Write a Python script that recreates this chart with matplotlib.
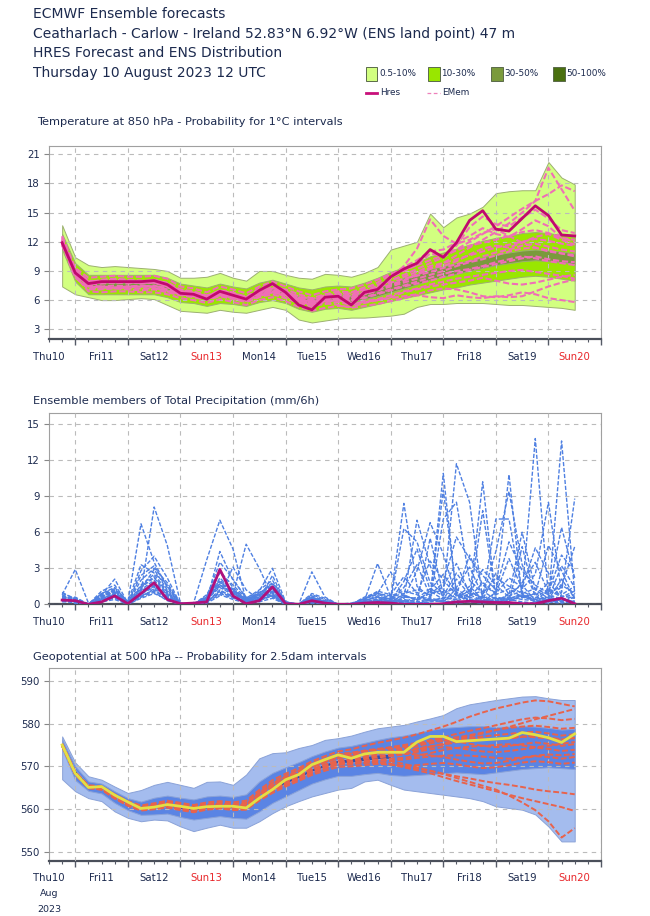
import numpy as np
import matplotlib
matplotlib.use('Agg')
import matplotlib.pyplot as plt
from matplotlib.patches import Rectangle
from matplotlib.lines import Line2D

nan = np.nan

# forecast steps (hours after Thu 10 Aug 2023 12 UTC)
steps = np.arange(6, 241, 6)
day_labels = ['Thu10', 'Fri11', 'Sat12', 'Sun13', 'Mon14', 'Tue15',
              'Wed16', 'Thu17', 'Fri18', 'Sat19', 'Sun20']

# ---------------- Temperature 850 hPa ----------------
t850_hres = [11.9, 8.8, 7.7, 7.9, 7.9, 7.9, 7.9, 8.0, 7.6, 6.7,
             6.6, 6.1, 6.9, 6.5, 6.1, 7.0, 7.7, 6.8, 5.5, 5.0,
             6.3, 6.4, 5.5, 6.8, 7.1, 8.4, 9.2, 9.8, 11.2, 10.4,
             11.9, 14.2, 15.2, 13.3, 13.1, 14.4, 15.7, 14.7, 12.7, 12.6]

t850_p0_lo = [7.4, 6.6, 6.3, 6.0, 6.0, 6.1, 6.2, 6.1, 5.5, 4.9,
              4.8, 4.7, 5.0, 4.8, 4.7, 5.0, 5.3, 5.0, 4.0, 3.7,
              3.9, 4.1, 4.2, 4.2, 4.3, 4.4, 4.6, 5.3, 5.6, 5.6,
              5.7, 5.7, 5.7, 5.6, 5.5, 5.5, 5.4, 5.3, 5.2, 5.0]
t850_p0_hi = [13.7, 10.4, 9.6, 9.4, 9.5, 9.4, 9.3, 9.2, 9.0, 8.3,
              8.3, 8.4, 8.8, 8.3, 8.0, 9.0, 9.0, 8.6, 8.3, 8.2,
              8.7, 8.6, 8.4, 8.8, 9.4, 11.2, 11.6, 12.0, 14.9, 13.5,
              14.5, 14.9, 15.6, 17.0, 17.2, 17.3, 17.3, 20.2, 18.6, 17.9]
t850_p10_lo = [11.2, 7.9, 6.6, 6.6, 6.6, 6.6, 6.6, 6.6, 6.3, 5.8,
               5.7, 5.4, 5.7, 5.6, 5.4, 5.8, 6.0, 5.7, 5.1, 4.8,
               5.1, 5.2, 5.0, 5.3, 5.6, 5.9, 6.2, 6.5, 6.8, 7.1,
               7.3, 7.6, 7.8, 8.0, 8.2, 8.4, 8.5, 8.4, 8.2, 8.0]
t850_p10_hi = [12.8, 9.8, 8.6, 8.6, 8.6, 8.6, 8.6, 8.6, 8.3, 7.7,
               7.5, 7.3, 7.7, 7.4, 7.2, 7.8, 8.1, 7.7, 7.3, 7.1,
               7.4, 7.5, 7.4, 7.8, 8.3, 8.9, 9.4, 9.9, 10.5, 10.9,
               11.3, 11.7, 12.1, 12.4, 12.6, 12.9, 13.0, 12.9, 12.7, 12.5]
t850_p30_lo = [11.7, 8.6, 7.4, 7.4, 7.4, 7.4, 7.4, 7.4, 7.1, 6.6,
               6.4, 6.1, 6.5, 6.3, 6.0, 6.5, 6.8, 6.5, 5.9, 5.6,
               5.9, 6.0, 5.8, 6.1, 6.4, 6.8, 7.2, 7.6, 8.1, 8.4,
               8.7, 9.0, 9.3, 9.6, 9.8, 10.0, 10.1, 10.0, 9.9, 9.7]
t850_p30_hi = [12.3, 9.0, 7.8, 7.8, 7.8, 7.8, 7.8, 7.8, 7.5, 7.0,
               6.8, 6.5, 6.9, 6.7, 6.4, 6.9, 7.2, 6.9, 6.4, 6.1,
               6.4, 6.6, 6.5, 6.8, 7.2, 7.8, 8.3, 8.7, 9.2, 9.5,
               9.8, 10.1, 10.4, 10.7, 10.9, 11.1, 11.2, 11.1, 11.0, 10.8]
t850_p50_lo = [11.8, 8.6] + [nan] * 38
t850_p50_hi = [12.2, 9.0] + [nan] * 38

t850_members = [
    [12.2, 8.9, 7.9, 8.0, 8.1, 8.0, 7.9, 8.1, 7.7, 6.9, 6.8, 6.4, 7.0, 6.8, 6.3, 7.2, 7.6, 7.0, 6.0, 5.6,
     6.4, 6.8, 6.5, 7.2, 7.8, 8.6, 9.4, 10.1, 11.0, 11.2, 11.9, 12.6, 13.4, 12.8, 12.5, 13.3, 14.2, 13.6, 12.4, 12.0],
    [11.8, 8.4, 7.1, 7.1, 7.2, 7.1, 7.0, 7.1, 6.8, 6.5, 6.3, 6.0, 6.4, 6.1, 5.8, 6.3, 6.6, 6.2, 5.7, 5.4,
     5.6, 5.8, 5.5, 5.9, 6.1, 6.5, 6.9, 7.2, 7.6, 7.9, 8.2, 8.4, 8.6, 8.8, 9.0, 9.1, 8.9, 8.7, 8.5, 8.2],
    [12.5, 9.1, 8.0, 7.9, 7.8, 7.7, 7.9, 8.0, 7.8, 7.1, 6.9, 6.5, 6.8, 6.6, 6.4, 6.9, 7.3, 7.1, 6.6, 6.2,
     6.6, 6.9, 6.8, 7.3, 7.6, 8.1, 8.4, 8.9, 9.5, 9.8, 10.2, 10.6, 11.0, 11.4, 11.7, 12.0, 12.3, 12.1, 11.8, 11.6],
    [11.6, 8.7, 7.7, 7.8, 7.9, 7.9, 7.7, 7.8, 7.4, 6.6, 6.4, 6.2, 6.6, 6.4, 6.1, 6.8, 7.2, 6.8, 6.1, 5.8,
     6.3, 6.5, 6.4, 6.9, 7.5, 8.2, 9.5, 11.3, 14.3, 12.6, 11.8, 12.2, 12.9, 13.3, 12.6, 11.9, 11.4, 11.0, 10.8, 10.5],
    [12.0, 8.8, 7.6, 7.7, 7.8, 7.9, 8.0, 7.9, 7.5, 6.8, 6.7, 6.3, 6.6, 6.3, 6.0, 6.6, 7.0, 6.6, 6.2, 5.9,
     6.1, 6.2, 6.1, 6.6, 7.0, 7.6, 8.0, 8.6, 9.2, 9.8, 10.6, 11.4, 12.2, 13.0, 13.9, 15.0, 16.2, 19.6, 17.4, 15.2],
    [12.3, 8.8, 7.4, 7.3, 7.2, 7.3, 7.4, 7.3, 6.9, 6.6, 6.5, 6.1, 6.5, 6.2, 5.9, 6.4, 6.8, 6.4, 5.9, 5.5,
     5.9, 6.0, 5.6, 5.8, 6.0, 6.2, 6.4, 6.6, 7.0, 7.2, 7.1, 6.8, 6.4, 6.3, 6.5, 6.8, 6.6, 6.2, 6.0, 5.8],
    [11.9, 8.7, 7.8, 8.1, 8.2, 8.1, 8.0, 7.9, 7.5, 6.9, 6.7, 6.4, 7.0, 6.7, 6.3, 6.8, 7.1, 6.8, 6.4, 6.1,
     6.5, 6.6, 6.7, 7.0, 7.3, 7.8, 8.2, 8.5, 8.9, 9.3, 9.7, 10.0, 10.5, 10.9, 11.2, 11.6, 11.8, 11.5, 11.2, 11.0],
    [12.1, 8.8, 7.7, 7.9, 7.9, 7.8, 7.8, 8.0, 7.6, 6.8, 6.6, 6.2, 6.8, 6.5, 6.1, 7.0, 7.6, 6.9, 5.8, 5.3,
     6.1, 6.3, 5.7, 6.6, 7.2, 8.3, 9.0, 9.6, 10.8, 10.5, 11.6, 13.5, 14.6, 13.8, 13.6, 14.5, 15.3, 14.4, 13.2, 12.9],
    [12.4, 8.8, 7.5, 7.4, 7.3, 7.4, 7.5, 7.4, 7.3, 7.0, 6.8, 6.4, 6.7, 6.5, 6.2, 6.6, 6.9, 6.6, 6.2, 5.8,
     6.0, 6.1, 6.0, 6.3, 6.7, 7.1, 7.5, 7.9, 8.3, 8.7, 9.0, 9.2, 9.5, 9.9, 10.2, 10.5, 10.3, 10.0, 9.8, 9.6],
    [11.7, 8.3, 7.2, 7.2, 7.3, 7.2, 7.2, 7.2, 7.0, 6.6, 6.4, 6.1, 6.5, 6.3, 6.0, 6.5, 6.8, 6.5, 6.0, 5.6,
     5.8, 6.0, 5.9, 6.2, 6.6, 7.0, 7.4, 7.7, 8.0, 8.4, 8.7, 9.1, 9.4, 9.7, 10.0, 10.3, 10.5, 10.2, 10.0, 9.9],
    [12.0, 8.9, 7.9, 8.0, 8.0, 8.0, 7.9, 8.1, 7.7, 6.9, 6.7, 6.3, 6.8, 6.6, 6.2, 6.9, 7.3, 6.9, 6.3, 6.0,
     6.4, 6.5, 6.3, 6.8, 7.1, 7.5, 8.0, 8.7, 9.3, 9.5, 10.0, 10.7, 11.3, 11.6, 11.4, 11.9, 12.5, 12.8, 12.2, 11.7],
    [12.2, 8.5, 6.9, 6.8, 6.9, 6.9, 6.8, 6.8, 6.6, 6.2, 6.0, 5.7, 6.1, 5.8, 5.5, 6.0, 6.3, 5.9, 5.3, 4.9,
     5.2, 5.4, 5.3, 5.7, 6.0, 6.3, 6.8, 7.1, 7.4, 7.6, 7.8, 8.0, 8.3, 8.0, 7.7, 7.6, 7.8, 8.1, 8.4, 8.6],
    [11.8, 8.5, 7.3, 7.4, 7.5, 7.4, 7.4, 7.5, 7.1, 6.7, 6.5, 6.2, 6.6, 6.3, 6.1, 6.6, 6.9, 6.6, 6.0, 5.5,
     5.7, 5.5, 5.2, 5.4, 5.6, 5.9, 6.2, 6.5, 6.3, 6.2, 6.5, 6.3, 6.2, 6.4, 6.3, 6.4, 6.9, 7.4, 7.8, 8.1],
    [12.6, 9.3, 8.3, 8.4, 8.5, 8.4, 8.4, 8.5, 8.2, 7.4, 7.2, 6.8, 7.4, 7.1, 6.7, 7.4, 7.9, 7.4, 6.9, 6.5,
     6.9, 7.1, 7.2, 7.6, 8.1, 8.7, 9.1, 9.6, 10.1, 10.6, 11.1, 11.6, 11.9, 12.2, 12.6, 13.0, 13.2, 12.9, 12.4, 12.2],
    [12.1, 8.8, 7.8, 7.8, 7.9, 7.9, 7.8, 7.8, 7.5, 6.8, 6.6, 6.3, 6.7, 6.5, 6.2, 6.7, 7.1, 6.7, 6.1, 5.7,
     6.2, 6.4, 6.2, 6.6, 7.0, 7.4, 7.8, 8.2, 8.6, 9.0, 9.5, 9.9, 10.2, 10.6, 11.0, 11.3, 11.4, 11.1, 10.8, 10.6],
    [11.9, 8.6, 7.7, 7.9, 8.0, 7.9, 7.8, 7.8, 7.4, 6.7, 6.6, 6.2, 6.7, 6.4, 6.1, 6.7, 7.0, 6.7, 6.2, 5.9,
     6.2, 6.4, 6.3, 6.8, 7.4, 8.0, 8.6, 9.2, 9.8, 10.4, 11.2, 12.0, 12.8, 13.6, 14.5, 15.4, 16.2, 16.9, 17.8, 17.2],
]

# ---------------- Total precipitation (mm/6h) ----------------
tp_hres = [0.35, 0.3, 0.0, 0.2, 0.7, 0.05, 0.9, 1.8, 0.4, 0.05,
           0.1, 0.2, 2.9, 0.7, 0.05, 0.3, 1.45, 0.05, 0.0, 0.3,
           0.1, 0.0, 0.0, 0.1, 0.15, 0.1, 0.0, 0.0, 0.0, 0.05,
           0.2, 0.25, 0.2, 0.15, 0.15, 0.05, 0.05, 0.3, 0.5, 0.05]

tp_members = [
    [0.5, 0.3, 0, 0.6, 1.0, 0.1, 1.2, 2.0, 0.8, 0, 0.1, 0.4, 1.6, 0.9, 0.2, 0.6, 1.2, 0.1, 0, 0.5,
     0.2, 0, 0, 0.2, 0.4, 0.1, 0.3, 0, 0.2, 0.6, 0.4, 1.2, 0.3, 0.1, 0.5, 0.8, 0.2, 0.1, 0.4, 0.2],
    [0.8, 2.9, 0.1, 0.4, 0.8, 0, 0.9, 1.5, 0.6, 0, 0, 0.3, 2.2, 1.1, 0.4, 0.9, 1.8, 0.2, 0, 0.4,
     0.1, 0, 0, 0.1, 0.2, 0.3, 0.1, 0.2, 5.5, 0.8, 11.7, 8.5, 0.4, 0.2, 0.9, 1.6, 0.3, 0.2, 0.1, 0.3],
    [0.4, 0.2, 0, 0.9, 1.3, 0.2, 6.7, 3.5, 1.4, 0, 0, 0.2, 1.2, 0.6, 0.1, 0.5, 1.0, 0, 0, 0.7,
     0.3, 0, 0, 0.3, 3.4, 0.6, 0.1, 0, 0.4, 0.2, 1.3, 0.5, 10.2, 0.3, 0.2, 4.8, 0.6, 0.4, 2.1, 0.5],
    [0.6, 0.4, 0, 0.5, 0.7, 0, 1.0, 8.1, 4.9, 0.1, 0, 0.5, 1.8, 1.3, 0.2, 0.7, 1.4, 0.1, 0, 0.3,
     0.1, 0, 0.1, 0.4, 0.9, 2.7, 0.5, 7.0, 3.2, 0.5, 0.9, 0.3, 0.6, 7.1, 7.1, 0.9, 0.3, 1.2, 0.6, 0.8],
    [0.3, 0.1, 0, 0.3, 0.5, 0.1, 0.7, 1.2, 0.5, 0, 0.1, 3.7, 7.0, 4.6, 0.3, 0.4, 0.8, 0, 0, 0.2,
     0, 0, 0, 0.1, 0.3, 0.5, 8.4, 1.5, 0.6, 10.9, 0.7, 0.4, 0.2, 1.0, 10.8, 0.5, 0.9, 0.3, 1.5, 4.8],
    [0.7, 0.3, 0, 0.7, 1.1, 0, 1.5, 2.3, 1.0, 0, 0, 0.4, 1.4, 0.8, 5.0, 3.0, 0.6, 0, 0, 0.6,
     0.2, 0, 0, 0, 0.5, 0.2, 0.8, 0.3, 1.1, 0.4, 2.1, 0.8, 0.3, 0.6, 0.4, 0.9, 13.8, 0.7, 0.5, 0.2],
    [0.2, 0.2, 0, 0.8, 2.1, 0.1, 0.8, 1.6, 0.6, 0, 0, 0.3, 0.9, 0.5, 0.2, 0.3, 0.7, 0, 0, 0.8,
     0.4, 0, 0, 0.2, 0.1, 0.4, 0.2, 0.6, 0.3, 0.5, 0.4, 0.9, 0.6, 0.2, 0.3, 0.6, 0.4, 0.3, 13.6, 0.9],
    [0.9, 0.5, 0, 0.5, 0.9, 0, 2.8, 4.0, 2.2, 0, 0, 0.6, 3.5, 2.1, 0.5, 1.1, 3.0, 0.2, 0, 2.7,
     0.6, 0, 0, 0.6, 1.0, 0.3, 1.9, 4.6, 1.2, 2.5, 1.0, 0.6, 1.8, 0.9, 3.8, 1.3, 2.5, 8.5, 1.0, 8.8],
    [0.5, 0.2, 0, 0.4, 0.6, 0, 0.6, 1.0, 0.3, 0, 0, 0.2, 0.8, 0.4, 0.1, 0.2, 0.5, 0, 0, 0.1,
     0, 0, 0, 0, 0.1, 0, 0, 0.1, 0.2, 0.3, 0.1, 0.2, 0.1, 0.3, 0.4, 0.2, 0.1, 0.3, 0.2, 0.1],
    [0.6, 0.3, 0, 0.6, 1.2, 0.1, 1.1, 1.8, 0.7, 0, 0, 0.4, 1.9, 1.0, 0.3, 0.8, 1.6, 0.1, 0, 0.4,
     0.2, 0, 0, 0.3, 0.6, 0.2, 0.5, 2.8, 6.8, 4.2, 0.6, 1.5, 0.4, 2.6, 0.8, 6.0, 1.2, 0.5, 3.2, 1.4],
    [0.4, 0.1, 0, 0.2, 0.4, 0, 0.5, 0.9, 0.4, 0, 0, 0.1, 0.7, 3.1, 1.2, 0.4, 2.4, 0.1, 0, 0.2,
     0.1, 0, 0, 0.1, 0.2, 0.1, 0.2, 0.4, 0.6, 9.5, 1.0, 0.3, 7.8, 0.5, 0.2, 0.8, 0.4, 0.6, 0.3, 0.7],
    [1.0, 0.4, 0, 0.9, 1.4, 0.2, 3.3, 2.6, 1.6, 0.1, 0, 0.7, 2.6, 1.6, 0.5, 1.2, 2.0, 0.2, 0, 0.9,
     0.5, 0, 0, 0.5, 0.8, 0.6, 0.9, 1.2, 0.8, 1.8, 5.6, 3.8, 2.4, 1.2, 5.2, 2.8, 1.6, 0.9, 6.4, 2.2],
    [0.3, 0.2, 0, 0.5, 0.8, 0, 0.9, 1.4, 0.9, 0, 0, 0.2, 1.1, 0.7, 0.2, 0.5, 0.9, 0, 0, 0.3,
     0.1, 0, 0, 0.2, 0.3, 0.2, 0.4, 0.2, 0.5, 0.3, 0.8, 0.2, 0.4, 0.3, 0.6, 0.4, 0.3, 0.5, 0.2, 0.6],
    [0.5, 0.6, 0, 0.4, 0.9, 0, 1.3, 2.9, 1.2, 0, 0, 0.5, 1.5, 0.9, 0.3, 0.6, 1.1, 0, 0, 0.5,
     0.3, 0, 0, 0.3, 0.7, 0.4, 6.3, 5.2, 1.8, 0.9, 1.4, 3.1, 0.7, 4.4, 9.4, 3.3, 0.7, 1.8, 0.6, 1.1],
    [0.7, 0.3, 0, 1.1, 1.6, 0.1, 2.0, 3.0, 1.8, 0, 0, 0.8, 2.8, 1.4, 0.4, 1.0, 1.5, 0.1, 0, 0.6,
     0.2, 0, 0, 0.4, 1.1, 0.8, 2.3, 0.9, 3.6, 2.0, 0.8, 4.1, 1.6, 0.9, 2.2, 1.4, 4.7, 2.6, 0.8, 1.5],
    [0.4, 0.2, 0, 0.3, 0.6, 0, 0.7, 1.1, 0.5, 0, 0, 0.3, 4.4, 2.0, 0.6, 0.3, 0.8, 0, 0, 0.3,
     0.1, 0, 0, 0.1, 0.2, 0.3, 0.6, 0.5, 1.3, 0.7, 2.6, 1.1, 0.5, 0.8, 1.3, 0.6, 0.9, 4.9, 2.8, 0.4],
    [0.6, 0.4, 0, 0.7, 1.0, 0.1, 1.6, 2.5, 1.1, 0, 0, 0.4, 1.7, 1.2, 0.3, 0.7, 1.3, 0.1, 0, 0.4,
     0.2, 0, 0, 0.2, 0.4, 0.5, 0.7, 0.4, 0.9, 1.2, 0.5, 0.8, 1.1, 0.4, 0.7, 1.1, 0.5, 1.3, 0.7, 0.5],
    [0.8, 0.3, 0, 0.6, 1.2, 0.1, 2.4, 3.2, 1.5, 0, 0, 0.6, 2.0, 1.2, 0.4, 0.9, 1.7, 0.1, 0, 0.5,
     0.2, 0, 0, 0.5, 0.9, 0.7, 1.1, 0.8, 0.3, 7.1, 8.5, 2.0, 0.9, 2.2, 1.5, 0.9, 1.3, 0.8, 1.6, 0.9],
    [0.3, 0.2, 0, 0.4, 0.7, 0, 0.6, 1.3, 0.6, 0, 0, 0.2, 1.0, 0.6, 0.1, 0.4, 0.7, 0, 0, 0.2,
     0.1, 0, 0, 0.1, 0.1, 0.2, 0.3, 0.1, 0.4, 0.2, 0.3, 0.6, 0.2, 0.5, 0.3, 0.7, 0.2, 0.4, 0.3, 0.2],
    [0.6, 0.5, 0, 0.8, 1.2, 0.1, 1.4, 2.2, 0.9, 0, 0, 0.5, 1.6, 1.0, 0.3, 0.8, 1.3, 0.1, 0, 0.4,
     0.2, 0, 0, 0.3, 0.6, 0.4, 1.4, 3.3, 0.7, 1.5, 3.4, 0.9, 2.9, 1.6, 0.6, 1.8, 3.5, 1.0, 4.1, 2.7],
]

# ---------------- Geopotential 500 hPa (dam) ----------------
z500_hres = [575.0, 568.4, 565.1, 565.3, 563.3, 561.7, 560.2, 560.5, 561.1, 560.7,
             560.2, 560.6, 560.7, 560.7, 560.3, 562.6, 564.6, 566.9, 568.1, 570.4,
             571.6, 572.7, 571.9, 572.9, 573.3, 573.3, 573.3, 575.7, 577.0, 577.0,
             575.8, 576.0, 576.2, 576.4, 576.6, 577.9, 577.4, 576.7, 575.6, 577.6]

z500_p0_lo = [567.0, 564.2, 562.6, 561.9, 559.5, 558.0, 557.2, 557.6, 557.4, 556.0,
              554.9, 555.7, 556.4, 555.7, 555.7, 557.2, 559.1, 560.7, 561.9, 563.0,
              563.8, 564.6, 565.0, 566.5, 566.9, 565.7, 564.6, 564.2, 563.8, 563.4,
              563.0, 562.6, 561.9, 560.7, 560.3, 559.9, 558.8, 556.0, 552.5, 552.5]
z500_p0_hi = [577.0, 570.9, 567.7, 566.9, 565.3, 563.8, 564.5, 565.7, 566.4, 565.7,
              565.0, 566.4, 566.5, 565.7, 568.1, 571.9, 573.1, 573.3, 574.3, 575.0,
              576.2, 576.6, 577.2, 578.1, 578.9, 579.3, 579.7, 580.5, 581.2, 582.0,
              583.6, 584.5, 585.0, 585.5, 585.9, 586.3, 586.4, 585.9, 585.5, 585.5]
z500_p10_lo = [574.0, 566.8, 564.3, 563.7, 561.5, 559.8, 558.7, 558.8, 559.0, 558.2,
               557.6, 558.0, 558.4, 558.0, 557.8, 559.5, 561.5, 563.0, 564.5, 566.0,
               567.0, 567.8, 567.8, 568.2, 568.5, 568.0, 567.8, 568.0, 568.2, 568.4,
               568.6, 568.4, 568.2, 568.6, 569.0, 569.4, 569.6, 569.8, 569.6, 569.4]
z500_p10_hi = [576.3, 570.0, 566.5, 566.0, 564.2, 562.6, 561.8, 562.7, 563.2, 562.7,
               562.3, 563.0, 563.2, 562.9, 563.5, 566.5, 568.5, 569.8, 571.0, 572.4,
               573.5, 574.4, 574.8, 575.5, 576.2, 576.8, 577.2, 577.8, 578.5, 579.0,
               579.2, 579.4, 579.4, 579.2, 579.3, 579.4, 579.3, 579.0, 578.6, 578.8]
z500_p30_lo = [574.7, 567.8, 565.0, 564.8, 562.8, 561.0, 560.0, 560.3, 560.7, 560.1,
               559.6, 560.2, 560.5, 560.2, 560.2, 562.4, 564.4, 566.0, 567.3, 568.8,
               569.9, 570.8, 570.9, 571.3, 571.7, 571.8] + [nan] * 14
z500_p30_hi = [575.5, 569.1, 565.6, 565.2, 563.1, 561.4, 560.3, 560.8, 561.2, 560.6,
               560.1, 560.7, 561.0, 560.7, 560.8, 563.0, 565.2, 566.7, 568.1, 569.6,
               570.7, 571.6, 571.9, 572.4, 572.8, 573.0] + [nan] * 14
z500_p50_lo = [574.8, 567.8, 565.0] + [nan] * 37
z500_p50_hi = [575.4, 569.2, 565.7] + [nan] * 37

z500_members = [
    [575.2, 568.6, 565.4, 565.2, 563.2, 561.5, 560.4, 560.9, 561.5, 560.8, 560.3, 560.9, 561.2, 560.9, 561.2, 563.8, 566.0, 567.6, 569.0, 570.6,
     571.8, 572.9, 573.2, 573.7, 574.1, 574.4, 574.6, 575.3, 576.1, 576.8, 577.6, 578.3, 578.9, 579.6, 580.3, 581.0, 581.4, 581.2, 580.8, 581.1],
    [574.8, 568.2, 565.0, 564.6, 562.6, 560.8, 559.7, 560.0, 560.4, 559.8, 559.3, 559.9, 560.2, 559.8, 559.9, 562.0, 563.8, 565.3, 566.6, 568.0,
     569.0, 569.9, 570.0, 570.3, 570.6, 570.4, 570.1, 570.3, 570.6, 570.8, 570.5, 570.0, 569.6, 569.8, 570.3, 570.9, 571.2, 571.0, 570.6, 570.9],
    [575.0, 568.5, 565.3, 565.0, 563.0, 561.4, 560.5, 561.0, 561.6, 561.1, 560.5, 561.0, 561.3, 561.0, 561.3, 563.6, 565.6, 567.2, 568.5, 570.0,
     571.1, 572.1, 572.4, 572.9, 573.4, 573.6, 573.8, 574.2, 574.7, 575.1, 575.6, 575.9, 576.2, 576.4, 576.7, 577.0, 576.8, 576.5, 576.2, 576.6],
    [575.1, 568.3, 565.1, 564.8, 562.7, 561.0, 560.0, 560.3, 560.6, 560.1, 559.6, 560.1, 560.4, 560.1, 560.2, 562.5, 564.4, 565.8, 567.0, 568.4,
     569.5, 570.4, 570.5, 570.8, 571.0, 570.6, 570.0, 569.5, 569.0, 568.2, 567.3, 566.4, 565.5, 564.6, 563.2, 561.6, 559.8, 557.2, 553.4, 555.6],
    [575.3, 568.7, 565.6, 565.4, 563.5, 561.9, 560.9, 561.4, 562.0, 561.5, 561.0, 561.6, 561.9, 561.6, 562.0, 564.5, 566.8, 568.3, 569.6, 571.2,
     572.4, 573.5, 574.0, 574.8, 575.5, 576.1, 576.7, 577.5, 578.4, 579.3, 580.4, 581.6, 582.6, 583.5, 584.2, 584.9, 585.4, 585.2, 584.6, 584.0],
    [574.9, 568.4, 565.2, 564.9, 562.9, 561.1, 560.1, 560.5, 560.9, 560.3, 559.8, 560.4, 560.7, 560.4, 560.5, 562.8, 564.9, 566.4, 567.8, 569.3,
     570.4, 571.3, 571.5, 572.0, 572.5, 572.7, 572.9, 573.4, 574.0, 574.5, 574.3, 573.9, 573.5, 573.3, 573.6, 574.0, 574.4, 574.1, 573.6, 573.9],
    [575.0, 568.3, 565.1, 564.8, 562.8, 561.2, 560.2, 560.6, 561.0, 560.5, 560.0, 560.6, 560.9, 560.6, 560.8, 563.2, 565.1, 566.6, 567.9, 569.2,
     570.2, 571.0, 571.1, 571.3, 571.5, 571.2, 570.6, 569.8, 569.0, 568.3, 567.7, 567.2, 566.6, 566.1, 565.7, 565.2, 564.6, 564.2, 563.9, 563.5],
    [575.2, 568.5, 565.3, 565.1, 563.1, 561.3, 560.3, 560.7, 561.2, 560.6, 560.1, 560.7, 561.0, 560.7, 560.9, 563.3, 565.4, 567.0, 568.3, 569.8,
     570.9, 571.9, 572.2, 572.6, 573.0, 573.2, 573.5, 574.0, 574.6, 575.2, 575.9, 576.5, 577.0, 577.3, 577.6, 577.9, 578.1, 577.7, 577.2, 577.5],
    [574.7, 568.1, 564.9, 564.6, 562.5, 560.9, 559.9, 560.2, 560.6, 560.0, 559.5, 560.0, 560.3, 560.0, 560.1, 562.3, 564.2, 565.7, 567.0, 568.5,
     569.6, 570.5, 570.7, 571.0, 571.3, 571.4, 571.6, 572.0, 572.3, 572.5, 572.6, 572.5, 572.3, 572.0, 571.8, 572.1, 572.5, 572.8, 572.6, 572.9],
    [575.1, 568.6, 565.4, 565.1, 563.1, 561.5, 560.6, 561.1, 561.7, 561.2, 560.7, 561.2, 561.6, 561.2, 561.6, 564.0, 566.2, 567.8, 569.2, 570.7,
     571.8, 572.8, 573.0, 573.5, 573.9, 574.1, 574.3, 574.8, 575.4, 576.0, 576.7, 577.3, 577.9, 578.5, 579.0, 579.3, 579.5, 579.2, 578.8, 579.0],
    [575.0, 568.4, 565.2, 564.9, 562.9, 561.2, 560.1, 560.4, 560.8, 560.2, 559.7, 560.3, 560.6, 560.3, 560.4, 562.6, 564.6, 566.1, 567.4, 568.9,
     570.0, 570.8, 570.8, 570.9, 571.0, 570.5, 569.8, 569.1, 568.4, 567.5, 566.6, 565.8, 565.0, 564.2, 563.4, 562.6, 561.9, 561.2, 560.5, 559.6],
    [574.9, 568.3, 565.1, 564.8, 562.8, 561.1, 560.2, 560.6, 561.1, 560.6, 560.1, 560.6, 560.9, 560.6, 560.7, 563.0, 565.0, 566.5, 567.8, 569.3,
     570.4, 571.4, 571.7, 572.3, 572.9, 573.4, 574.0, 574.9, 575.8, 576.5, 576.8, 576.7, 576.5, 576.3, 576.5, 576.9, 577.2, 576.8, 576.3, 576.7],
    [575.1, 568.5, 565.2, 565.0, 563.0, 561.3, 560.3, 560.8, 561.3, 560.9, 560.4, 561.0, 561.2, 560.9, 561.0, 563.4, 565.5, 567.1, 568.6, 570.2,
     571.4, 572.4, 572.6, 573.0, 573.3, 573.2, 573.0, 572.8, 572.6, 572.2, 571.6, 571.1, 570.7, 570.8, 571.3, 571.9, 572.4, 572.2, 571.8, 572.2],
    [575.0, 568.4, 565.2, 564.9, 562.9, 561.2, 560.2, 560.6, 561.0, 560.4, 559.9, 560.5, 560.8, 560.5, 560.6, 562.9, 564.9, 566.4, 567.7, 569.2,
     570.3, 571.2, 571.3, 571.7, 572.1, 572.4, 572.8, 573.6, 574.5, 575.3, 576.2, 577.0, 577.7, 578.5, 579.2, 580.1, 581.0, 581.8, 582.6, 583.4],
    [575.2, 568.6, 565.4, 565.2, 563.1, 561.4, 560.4, 560.8, 561.3, 560.7, 560.2, 560.8, 561.1, 560.8, 561.0, 563.5, 565.7, 567.3, 568.7, 570.3,
     571.5, 572.5, 572.9, 573.5, 574.0, 574.5, 575.0, 575.5, 575.9, 576.1, 575.8, 575.3, 574.8, 574.5, 574.8, 575.2, 575.6, 575.3, 574.8, 575.2],
    [574.8, 568.2, 565.0, 564.7, 562.7, 561.0, 560.0, 560.4, 560.8, 560.2, 559.7, 560.2, 560.5, 560.2, 560.3, 562.5, 564.4, 565.9, 567.2, 568.7,
     569.8, 570.7, 570.9, 571.3, 571.6, 571.8, 572.0, 572.5, 573.1, 573.8, 574.3, 574.6, 574.8, 575.0, 575.2, 574.9, 574.5, 574.8, 575.3, 575.7],
]

# ---------------- styling ----------------
TXT = '#1c2a4e'
RED = '#e8262a'
green_cols = ['#d2ff80', '#99e600', '#7a9a3c', '#4a7010']
blue_cols = ['#a4bcee', '#5a84e4', '#3050b0', '#101c48']
MEMBER_DASH = (0, (3.0, 1.3))

plt.rcParams['font.family'] = 'DejaVu Sans'

fig = plt.figure(figsize=(6.5, 9.16), dpi=100)
W, H = 650.0, 916.0


def px_axes(left, top, right, bottom):
    return fig.add_axes([left / W, 1 - bottom / H, (right - left) / W, (bottom - top) / H])


midnights = np.arange(12, 253, 24)
minor_pos = [h for h in range(0, 253, 6) if (h - 12) % 24 != 0]
minor_labels = [day_labels[h // 24] if h % 24 == 0 and h // 24 < len(day_labels) else '' for h in minor_pos]


def setup_axes(ax, ylim, yticks):
    ax.set_xlim(0, 252)
    ax.set_ylim(*ylim)
    ax.set_yticks(yticks)
    ax.set_xticks(midnights, [''] * len(midnights))
    ax.set_xticks(minor_pos, minor_labels, minor=True)
    ax.tick_params(axis='x', which='major', length=4.5, width=1.0, color='#555a66')
    ax.tick_params(axis='x', which='minor', length=2.2, width=0.8, color='#555a66',
                   pad=7, labelsize=7.3, labelcolor=TXT)
    ax.tick_params(axis='y', length=3.5, width=0.8, color='#888888', labelsize=7.3,
                   labelcolor=TXT, pad=3)
    for lab, name in zip(ax.get_xticklabels(minor=True), minor_labels):
        if name.startswith('Sun'):
            lab.set_color(RED)
    ax.grid(True, which='major', color='#bbbbbb', linestyle=(0, (4, 4)), linewidth=0.8)
    ax.set_axisbelow(False)
    for side in ['top', 'right', 'left']:
        ax.spines[side].set_color('#a0a0a0')
        ax.spines[side].set_linewidth(0.8)
    ax.spines['bottom'].set_color('#4a4f5a')
    ax.spines['bottom'].set_linewidth(1.6)


def prob_bands(ax, bands, colors, edge):
    for (lo, hi), col in zip(bands, colors):
        ax.fill_between(steps, lo, hi, facecolor=col, edgecolor=edge, linewidth=0.7, zorder=1)


# ---- header ----
header = ['ECMWF Ensemble forecasts',
          'Ceatharlach - Carlow - Ireland 52.83°N 6.92°W (ENS land point) 47 m',
          'HRES Forecast and ENS Distribution',
          'Thursday 10 August 2023 12 UTC']
for i, line in enumerate(header):
    fig.text(33 / W, 1 - (14 + 19.6 * i) / H, line, fontsize=10, color=TXT, va='center')

# ---- legend ----
leg_labels = ['0.5-10%', '10-30%', '30-50%', '50-100%']
leg_x = [366, 428, 491, 553]
for x, lab, col in zip(leg_x, leg_labels, green_cols):
    fig.add_artist(Rectangle((x / W, 1 - 81 / H), 11.5 / W, 14 / H, transform=fig.transFigure,
                             facecolor=col, edgecolor='#5a6a4a', linewidth=0.7))
    fig.text((x + 13.5) / W, 1 - 73.5 / H, lab, fontsize=6.4, color=TXT, va='center')
fig.add_artist(Line2D([366 / W, 377 / W], [1 - 92.5 / H] * 2, transform=fig.transFigure,
                      color='#c8107a', linewidth=2))
fig.text(380 / W, 1 - 92.5 / H, 'Hres', fontsize=6.4, color=TXT, va='center')
fig.add_artist(Line2D([427 / W, 440 / W], [1 - 92.5 / H] * 2, transform=fig.transFigure,
                      color='#ee80bb', linewidth=0.9, linestyle=(0, (3, 2))))
fig.text(442 / W, 1 - 92.5 / H, 'EMem', fontsize=6.4, color=TXT, va='center')

# ---- panel 1: temperature 850 hPa ----
fig.text(37 / W, 1 - 122 / H, 'Temperature at 850 hPa - Probability for 1°C intervals',
         fontsize=8.2, color=TXT, va='center')
ax1 = px_axes(49, 146, 601, 339)
prob_bands(ax1, [(t850_p0_lo, t850_p0_hi), (t850_p10_lo, t850_p10_hi),
                 (t850_p30_lo, t850_p30_hi), (t850_p50_lo, t850_p50_hi)],
           green_cols, '#9cb070')
for m in t850_members:
    ax1.plot(steps, m, color='#f06eb6', linewidth=1.5, linestyle=MEMBER_DASH, zorder=3)
ax1.plot(steps, t850_hres, color='#c0086e', linewidth=2.0, zorder=4)
setup_axes(ax1, (2.0, 21.85), np.arange(3, 22, 3))

# ---- panel 2: precipitation ----
fig.text(33 / W, 1 - 401.5 / H, 'Ensemble members of Total Precipitation (mm/6h)',
         fontsize=8.2, color=TXT, va='center')
ax2 = px_axes(49, 412.7, 601, 604.3)
for m in tp_members:
    ax2.plot(steps, m, color='#4f80e2', linewidth=1.0, linestyle=MEMBER_DASH, zorder=3)
ax2.plot(steps, tp_hres, color='#b0107c', linewidth=2.0, zorder=4)
setup_axes(ax2, (0, 15.95), np.arange(0, 16, 3))

# ---- panel 3: geopotential 500 hPa ----
fig.text(33 / W, 1 - 657.3 / H, 'Geopotential at 500 hPa -- Probability for 2.5dam intervals',
         fontsize=8.2, color=TXT, va='center')
ax3 = px_axes(49, 668.3, 601, 860.7)
prob_bands(ax3, [(z500_p0_lo, z500_p0_hi), (z500_p10_lo, z500_p10_hi),
                 (z500_p30_lo, z500_p30_hi), (z500_p50_lo, z500_p50_hi)],
           blue_cols, '#8aa2d8')
for m in z500_members:
    ax3.plot(steps, m, color='#e8634c', linewidth=1.4, linestyle=MEMBER_DASH, zorder=3)
ax3.plot(steps, z500_hres, color='#e2e044', linewidth=2.0, zorder=4)
setup_axes(ax3, (548.0, 592.9), np.arange(550, 591, 10))

fig.text(49 / W, 1 - 893 / H, 'Aug', fontsize=6.8, color=TXT, ha='center', va='center')
fig.text(49 / W, 1 - 909 / H, '2023', fontsize=6.8, color=TXT, ha='center', va='center')

fig.savefig('out.png', dpi=100)
